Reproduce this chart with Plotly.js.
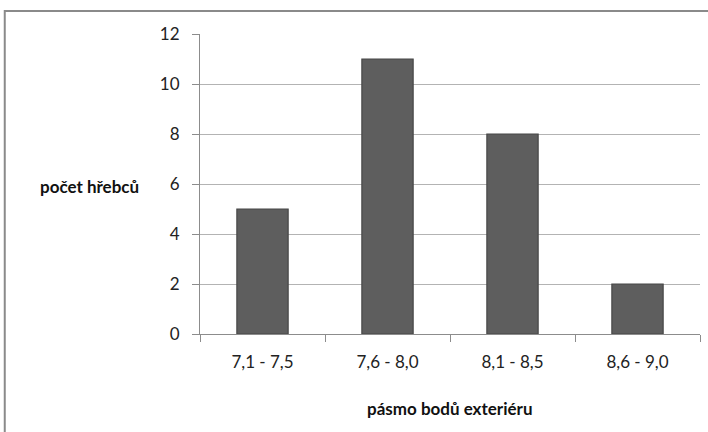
<!DOCTYPE html>
<html>
<head>
<meta charset="utf-8">
<script src="https://cdn.plot.ly/plotly-3.0.1.min.js"></script>
<style>html,body{margin:0;padding:0;background:#fff;}#chart{width:708px;height:432px;}</style>
</head>
<body>
<div id="chart"></div>
<script>
const categories = ["7,1 - 7,5", "7,6 - 8,0", "8,1 - 8,5", "8,6 - 9,0"];
const counts = [5, 11, 8, 2];
const yTicks = [0, 2, 4, 6, 8, 10, 12];
const xTitle = "pásmo bodů exteriéru";
const yTitle = "počet hřebců";

const fontFam = "Lato, 'Open Sans', 'DejaVu Sans', sans-serif";

const trace = {
  type: "bar",
  x: categories,
  y: counts,
  width: 0.41,
  marker: { color: "#5e5e5e", line: { color: "#474747", width: 1.2 } },
  hoverinfo: "none"
};

const layout = {
  width: 708, height: 432,
  margin: { l: 200, r: 8, t: 34, b: 98 },
  paper_bgcolor: "#ffffff",
  plot_bgcolor: "#ffffff",
  showlegend: false,
  font: { family: fontFam, size: 17, color: "#222" },
  xaxis: {
    type: "category",
    showgrid: false,
    showline: true, linecolor: "#8c8c8c", linewidth: 1,
    ticks: "outside", ticklen: 7, tickcolor: "#8c8c8c",
    tickson: "boundaries",
    ticklabelstandoff: 13,
    tickfont: { family: fontFam, size: 17, color: "#222" },
    fixedrange: true
  },
  yaxis: {
    range: [0, 12],
    tickvals: yTicks,
    showgrid: true, gridcolor: "#b3b3b3", gridwidth: 1,
    showline: true, linecolor: "#8c8c8c", linewidth: 1,
    ticks: "outside", ticklen: 7, tickcolor: "#8c8c8c",
    ticklabelstandoff: 9,
    tickfont: { family: fontFam, size: 17, color: "#222" },
    zeroline: false,
    fixedrange: true
  },
  shapes: [
    { type: "rect", xref: "paper", yref: "paper", x0: -0.3905, x1: 1.05, y0: -0.5, y1: 1.077,
      line: { color: "#8a8a8a", width: 2 }, fillcolor: "rgba(0,0,0,0)", layer: "below" }
  ],
  annotations: [
    { text: "<b>" + yTitle + "</b>", xref: "paper", yref: "paper", x: -0.221, y: 0.493,
      xanchor: "center", yanchor: "middle", showarrow: false,
      font: { family: fontFam, size: 17, color: "#111" } },
    { text: "<b>" + xTitle + "</b>", xref: "paper", yref: "paper", x: 0.5, y: -0.247,
      xanchor: "center", yanchor: "middle", showarrow: false,
      font: { family: fontFam, size: 17, color: "#111" } }
  ]
};

Plotly.newPlot("chart", [trace], layout, { displayModeBar: false, staticPlot: true });
</script>
</body>
</html>
